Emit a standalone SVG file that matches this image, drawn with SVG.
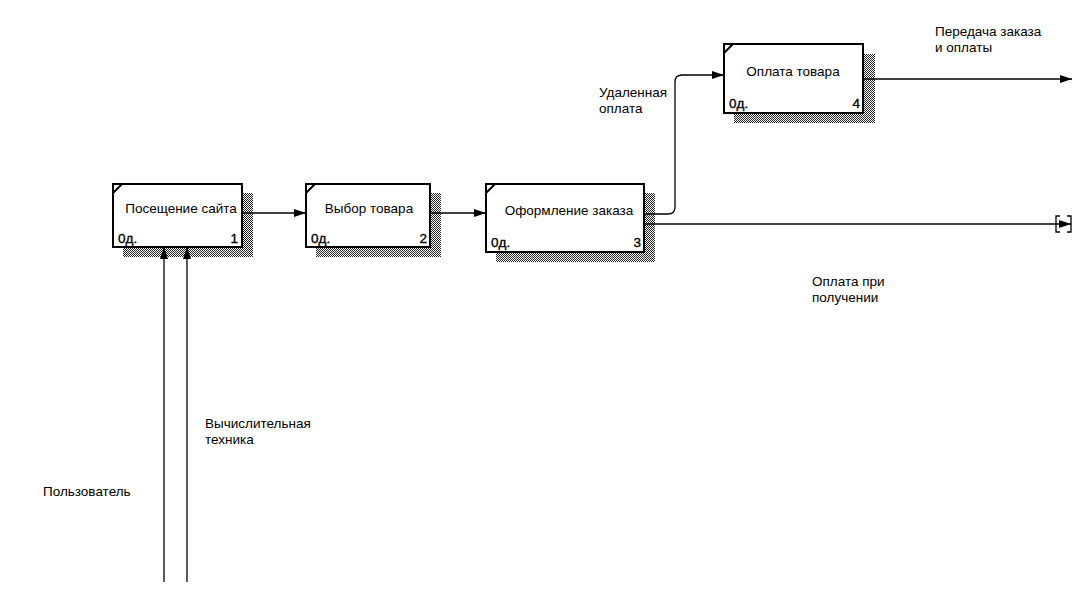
<svg xmlns="http://www.w3.org/2000/svg" width="1087" height="600" viewBox="0 0 1087 600">
<style>
.box{fill:#fff;stroke:#000;stroke-width:2}
.sh{fill:url(#hatch)}
.t{font-family:"Liberation Sans",Arial,sans-serif;font-size:13.5px;fill:#000}
.n{font-family:"Liberation Sans",Arial,sans-serif;font-size:13.5px;fill:#000;stroke:#000;stroke-width:0.35}
.k{stroke:#000;stroke-width:2}
.c{stroke:#000;stroke-width:1.3;fill:none}
</style>
<defs>
<pattern id="hatch" width="2" height="2" patternUnits="userSpaceOnUse">
<rect width="2" height="2" fill="#fff"/>
<rect width="1" height="1" fill="#222"/>
<rect x="1" y="1" width="1" height="1" fill="#222"/>
</pattern>
<marker id="arr" viewBox="0 0 12 8" refX="12" refY="4" markerWidth="12" markerHeight="8" markerUnits="userSpaceOnUse" orient="auto">
<path d="M0,0 L12,4 L0,8 Z" fill="#000"/>
</marker>
</defs>
<rect width="1087" height="600" fill="#fff"/>
<g id="node1">
<rect class="sh" x="123" y="193" width="130" height="64"/>
<rect class="box" x="113" y="184" width="129" height="63"/>
<line class="k" x1="113" y1="193" x2="122" y2="184"/>
<text class="t" x="181" y="213" text-anchor="middle">Посещение сайта</text>
<text class="n" x="118" y="243">0д.</text>
<text class="n" x="238" y="243" text-anchor="end">1</text>
</g>
<g id="node2">
<rect class="sh" x="316" y="193" width="125" height="64"/>
<rect class="box" x="306" y="184" width="124" height="63"/>
<line class="k" x1="306" y1="193" x2="315" y2="184"/>
<text class="t" x="369" y="213" text-anchor="middle">Выбор товара</text>
<text class="n" x="311" y="243">0д.</text>
<text class="n" x="427" y="243" text-anchor="end">2</text>
</g>
<g id="node3">
<rect class="sh" x="496" y="193" width="159" height="69"/>
<rect class="box" x="486" y="184" width="158" height="68"/>
<line class="k" x1="486" y1="193" x2="495" y2="184"/>
<text class="t" x="569" y="215" text-anchor="middle">Оформление заказа</text>
<text class="n" x="491" y="247">0д.</text>
<text class="n" x="641" y="247" text-anchor="end">3</text>
</g>
<g id="node4">
<rect class="sh" x="734" y="54" width="141" height="69"/>
<rect class="box" x="724" y="44" width="139" height="69"/>
<line class="k" x1="724" y1="53" x2="733" y2="44"/>
<text class="t" x="793" y="76" text-anchor="middle">Оплата товара</text>
<text class="n" x="729" y="108">0д.</text>
<text class="n" x="860" y="108" text-anchor="end">4</text>
</g>
<g id="connectors">
<path class="c" d="M242,213 H306" marker-end="url(#arr)"/>
<path class="c" d="M430,213 H486" marker-end="url(#arr)"/>
<path class="c" d="M644,214 H668 Q675,214 675,207 V82 Q675,75 682,75 H724" marker-end="url(#arr)"/>
<path class="c" d="M644,224 H1071" marker-end="url(#arr)"/>
<path d="M1060,216 H1056 V232 H1060 M1067,216 H1071 V232 H1067" stroke="#000" stroke-width="1.3" fill="none"/>
<path class="c" d="M863,79 H1072" marker-end="url(#arr)"/>
<path class="c" d="M164,582 V247" marker-end="url(#arr)"/>
<path class="c" d="M187,582 V247" marker-end="url(#arr)"/>
</g>
<g id="labels">
<text class="t" x="935" y="36">Передача заказа</text>
<text class="t" x="935" y="52">и оплаты</text>
<text class="t" x="599" y="97">Удаленная</text>
<text class="t" x="599" y="113">оплата</text>
<text class="t" x="812" y="286">Оплата при</text>
<text class="t" x="812" y="302">получении</text>
<text class="t" x="205" y="428">Вычислительная</text>
<text class="t" x="205" y="444">техника</text>
<text class="t" x="43" y="496">Пользователь</text>
</g>
</svg>
